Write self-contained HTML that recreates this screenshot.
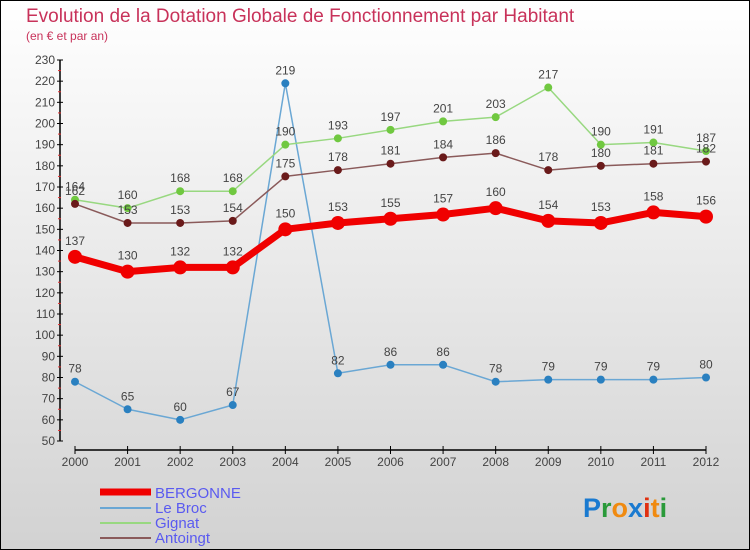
<!DOCTYPE html>
<html><head><meta charset="utf-8"><style>
html,body{margin:0;padding:0}
body{width:750px;height:550px;overflow:hidden;font-family:"Liberation Sans",sans-serif}
#c{position:absolute;left:0;top:0;width:748px;height:548px;border:1px solid #000;background:linear-gradient(#ffffff,#d2d2d2)}
</style></head><body>
<div id="c">
<svg id="s" width="748" height="548" viewBox="1 1 748 548" style="position:absolute;left:0;top:0">
<text x="26" y="22" font-size="19" fill="#c8325a">Evolution de la Dotation Globale de Fonctionnement par Habitant</text>
<text x="26" y="40" font-size="12" fill="#c8325a">(en € et par an)</text>
<g id="axes"></g><g id="series"></g>
<g>
<line x1="100" y1="492" x2="151" y2="492" stroke="#f00000" stroke-width="7"/>
<text x="155" y="498" font-size="15" fill="#5a5af0">BERGONNE</text>
<line x1="100" y1="508" x2="151" y2="508" stroke="#6aa7d4" stroke-width="2"/>
<text x="155" y="513" font-size="15" fill="#5a5af0">Le Broc</text>
<line x1="100" y1="523" x2="151" y2="523" stroke="#98d880" stroke-width="2"/>
<text x="155" y="528" font-size="15" fill="#5a5af0">Gignat</text>
<line x1="100" y1="538" x2="151" y2="538" stroke="#8a5a5a" stroke-width="2"/>
<text x="155" y="543" font-size="15" fill="#5a5af0">Antoingt</text>
</g>
<text x="583" y="517" font-size="27" font-weight="bold"><tspan fill="#1a7ad0">P</tspan><tspan fill="#2a9a3a">r</tspan><tspan fill="#f08a10">o</tspan><tspan fill="#1a7ad0">x</tspan><tspan fill="#e03010">i</tspan><tspan fill="#f08a10">t</tspan><tspan fill="#2a9a3a">i</tspan></text>
</svg></div>
<script>
const years=["2000","2001","2002","2003","2004","2005","2006","2007","2008","2009","2010","2011","2012"];
const bergonne=[137,130,132,132,150,153,155,157,160,154,153,158,156];
const leBroc=[78,65,60,67,219,82,86,86,78,79,79,79,80];
const gignat=[164,160,168,168,190,193,197,201,203,217,190,191,187];
const antoingt=[162,153,153,154,175,178,181,184,186,178,180,181,182];
const yTicks=[50,60,70,80,90,100,110,120,130,140,150,160,170,180,190,200,210,220,230];
const NS="http://www.w3.org/2000/svg";
const X0=75,X1=706,Y0=441,Y1=60,YMIN=50,YMAX=230;
function xs(i){return X0+(X1-X0)*i/(years.length-1);}
function ys(v){return Y0-(v-YMIN)*(Y0-Y1)/(YMAX-YMIN);}
function mk(t,a,p){const e=document.createElementNS(NS,t);for(const k in a)e.setAttribute(k,a[k]);p.appendChild(e);return e;}
const ax=document.getElementById('axes');
let l=mk('line',{x1:60,y1:Y1,x2:60,y2:Y0,stroke:'#000','stroke-width':1.5},ax);


yTicks.forEach((v,i)=>{
 mk('line',{x1:57,y1:ys(v),x2:63,y2:ys(v),stroke:'#000'},ax);
 if(i<yTicks.length-1)mk('line',{x1:58,y1:ys(v+5),x2:61,y2:ys(v+5),stroke:'#e03030'},ax);
 const t=mk('text',{x:55,y:ys(v)+4,'font-size':12,fill:'#444','text-anchor':'end'},ax);t.textContent=v;
 
 
});
l=mk('line',{x1:X0,y1:450,x2:X1,y2:450,stroke:'#000','stroke-width':1.5},ax);


years.forEach((y,i)=>{
 mk('line',{x1:xs(i),y1:446,x2:xs(i),y2:454,stroke:'#000'},ax);
 const t=mk('text',{x:xs(i),y:466,'font-size':12,fill:'#444','text-anchor':'middle'},ax);t.textContent=y;
 
 
});
const sg=document.getElementById('series');
function draw(name,data,color,w,r,dot){
 const g=mk('g',{},sg);
 
 
 const p=mk('polyline',{points:data.map((v,i)=>xs(i)+','+ys(v)).join(' '),fill:'none',stroke:color,'stroke-width':w,'stroke-linejoin':'round'},g);
 
 
 data.forEach((v,i)=>{
  const c=mk('circle',{cx:xs(i),cy:ys(v),r:r,fill:dot},g);
  
  
  const t=mk('text',{x:xs(i),y:ys(v)-r-5,'font-size':12,fill:'#444','text-anchor':'middle'},g);t.textContent=v;
  
  
 });
}
draw('le-broc',leBroc,'#6aa7d4',1.5,4,'#2a80c0');
draw('gignat',gignat,'#98d880',1.5,4,'#70c840');
draw('antoingt',antoingt,'#8a5a5a',1.5,4,'#6a1a1a');
draw('bergonne',bergonne,'#f00000',7,7,'#f00000');
</script>
</body></html>
